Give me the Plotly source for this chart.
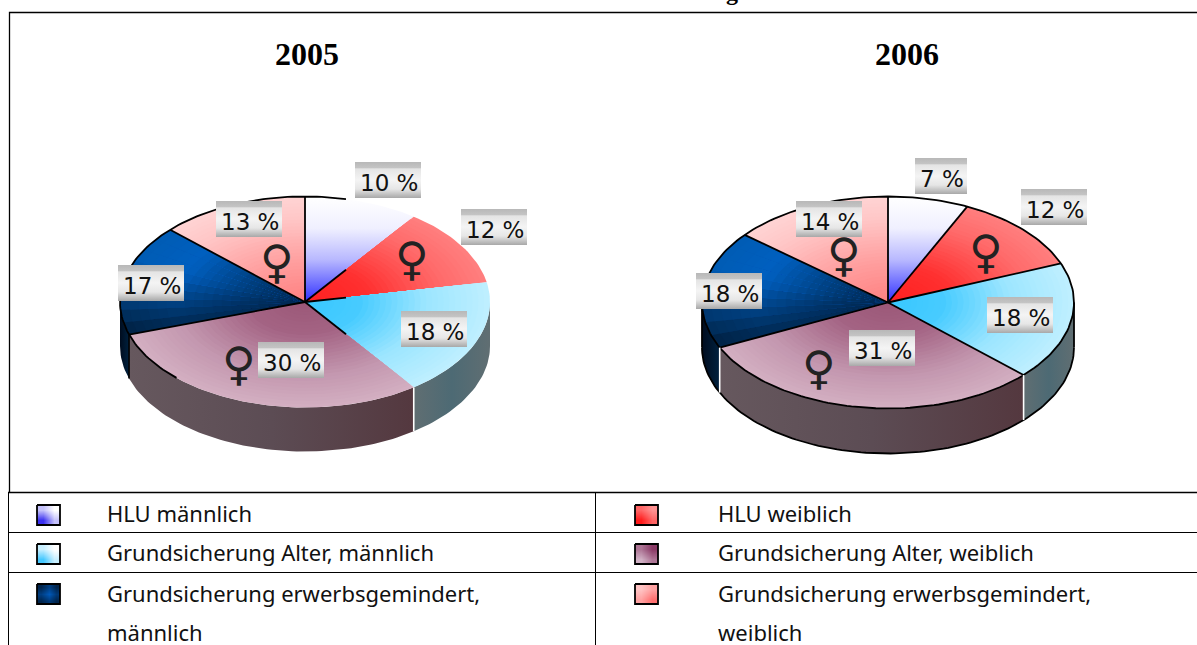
import numpy as np
import plotly.graph_objects as go

# ---------- data ----------
years = ["2005", "2006"]
categories = ["HLU männlich", "HLU weiblich", "Grundsicherung Alter, männlich",
              "Grundsicherung Alter, weiblich", "Grundsicherung erwerbsgemindert, männlich",
              "Grundsicherung erwerbsgemindert, weiblich"]
values_2005 = [10, 12, 18, 30, 17, 13]
values_2006 = [7, 12, 18, 31, 18, 14]

# ---------- layout constants ----------
W, H = 1197, 645
PIES = [
    dict(v=values_2005, cx=305, cy=302, rx=185, ry=105.5, d=44, full=False, title_x=307,
         boxes=[(355, 162, 66), (461, 209, 66), (401, 311, 66), (258, 342, 66), (118, 265, 66), (216, 201, 66)],
         fem=[(412, 259), (239, 364), (277, 262)]),
    dict(v=values_2006, cx=888, cy=302.5, rx=186, ry=106, d=45, full=True, title_x=907,
         boxes=[(915, 158, 52), (1021, 189, 66), (987, 297, 66), (849, 330, 66), (696, 273, 66), (796, 201, 66)],
         fem=[(986, 252), (819, 368), (844, 255)]),
]
# radial colour stops per slice (fraction of radius, colour)
RAD = {
    1: [(0, "#ff2020"), (.35, "#ff3030"), (.75, "#ff6a6a"), (1, "#ff8080")],
    2: [(0, "#38c8ff"), (.3, "#48ccff"), (.65, "#9ce6ff"), (1, "#c0f0ff")],
    3: [(0, "#9c5878"), (.3, "#a46484"), (.7, "#c498b0"), (1, "#d4b0c2")],
    5: [(0, "#ff8080"), (.4, "#ffa0a0"), (.8, "#ffc8c8"), (1, "#ffd4d4")],
}
NAVY_IN = [(0, "#00264c"), (.3, "#003c78"), (.7, "#0060c0"), (1, "#005cb4")]
NAVY_LOW = [(0, "#00264c"), (.3, "#002c58"), (.7, "#002e5c"), (1, "#002448")]
WALL_COL = {
    2: [(0, "#606e72"), (.5, "#4d6a74"), (1, "#606e72")],
    3: [(0, "#54383f"), (.5, "#5c4c54"), (1, "#66585e")],
    4: [(0, "#00213f"), (1, "#000c1e")],
}
NL = 32


def hex2rgb(h):
    return np.array([int(h[i:i + 2], 16) for i in (1, 3, 5)], float)


def lerp(stops, f):
    xs = [s[0] for s in stops]
    arr = np.array([hex2rgb(s[1]) for s in stops])
    return "rgb(%d,%d,%d)" % tuple(np.interp(f, xs, arr[:, i]) for i in range(3))


def mix(a, b, k):
    out = []
    for (f, c1), (_, c2) in zip(a, b):
        rgb = hex2rgb(c1) * (1 - k) + hex2rgb(c2) * k
        out.append((f, "#%02x%02x%02x" % tuple(int(x) for x in rgb)))
    return out


def arc(p, t0, t1, scale=1.0, dy=0.0, n=None):
    n = n or max(2, int(abs(t1 - t0) / 1.5))
    t = np.radians(np.linspace(t0, t1, n))
    return p["cx"] + scale * p["rx"] * np.sin(t), p["cy"] + dy - scale * p["ry"] * np.cos(t)


fig = go.Figure()


def add_poly(x, y, fill=None, grad=None, line=None, lw=0):
    tr = dict(x=list(x), y=list(y), mode="lines", fill="toself", hoverinfo="skip",
              line=dict(color=line or "rgba(0,0,0,0)", width=lw))
    if grad is not None:
        tr["fillgradient"] = grad
    else:
        tr["fillcolor"] = fill
    fig.add_trace(go.Scatter(**tr))


def add_line(x, y, color="#000", lw=1.8):
    fig.add_trace(go.Scatter(x=list(x), y=list(y), mode="lines", hoverinfo="skip",
                             line=dict(color=color, width=lw)))


def cs(stops):
    return [[f, c] for f, c in stops]


def draw_pie(p):
    edges = np.concatenate([[0], np.cumsum(p["v"])]) / sum(p["v"]) * 360
    # side walls
    for i, st in WALL_COL.items():
        a, b = max(edges[i], 90), min(edges[i + 1], 270)
        if b <= a:
            continue
        x0, y0 = arc(p, a, b)
        x1, y1 = arc(p, b, a, dy=p["d"])
        X = np.r_[x0, x1]
        add_poly(np.r_[X, X[0]], np.r_[y0, y1, y0[0]],
                 grad=dict(type="horizontal", start=float(X.max()), stop=float(X.min()),
                           colorscale=cs(st)))
    # slices
    for i in range(6):
        a, b = edges[i], edges[i + 1]
        if i == 0:
            x, y = arc(p, a, b)
            add_poly(np.r_[p["cx"], x, p["cx"]], np.r_[p["cy"], y, p["cy"]],
                     grad=dict(type="vertical", start=p["cy"] - p["ry"], stop=p["cy"],
                               colorscale=[[0, "#ffffff"], [.3, "#f0f0ff"], [.6, "#b8b8ff"], [1, "#3030ff"]]))
        elif i == 4:
            # navy slice: brightest in its upper part, dark toward the lower edge
            m = 9
            for j in range(m):
                aa = a + (b - a) * j / m
                bb = a + (b - a) * (j + 1) / m + .6
                k = float(np.clip((j + .5) / m * 1.7 - .1, 0, 1))
                st = mix(NAVY_LOW, NAVY_IN, k)
                for lv in range(20, 0, -1):
                    f = lv / 20
                    x, y = arc(p, aa, bb, scale=f, n=8)
                    col = lerp(st, f - 1 / 40)
                    add_poly(np.r_[p["cx"], x, p["cx"]], np.r_[p["cy"], y, p["cy"]], fill=col)
        else:
            for lv in range(NL, 0, -1):
                f = lv / NL
                x, y = arc(p, a, b, scale=f)
                col = lerp(RAD[i], f - 1 / (2 * NL))
                add_poly(np.r_[p["cx"], x, p["cx"]], np.r_[p["cy"], y, p["cy"]], fill=col)
    # outlines
    if p["full"]:
        x, y = arc(p, 0, 360, n=240)
        add_line(x, y)
        x, y = arc(p, 90, 270, dy=p["d"])
        add_line(x, y)
        add_line([p["cx"] + p["rx"]] * 2, [p["cy"], p["cy"] + p["d"]])
        add_line([p["cx"] - p["rx"]] * 2, [p["cy"], p["cy"] + p["d"]])
        for e in edges[:-1]:
            x, y = arc(p, e, e, n=1)
            add_line([p["cx"], x[0]], [p["cy"], y[0]])
    else:
        # the older picture only keeps its outline on the left part
        clip = p["cx"] + 41
        x, y = arc(p, 224, 372.8)
        add_line(x, y)
        for e in edges[:-1]:
            x, y = arc(p, e, e, n=1)
            xe, ye = x[0], y[0]
            if xe > clip:
                s = (clip - p["cx"]) / (xe - p["cx"])
                xe, ye = clip, p["cy"] + s * (ye - p["cy"])
            add_line([p["cx"], xe], [p["cy"], ye])
    # wall separators
    for e in edges[1:-1]:
        if 90 < e < 270:
            x, y = arc(p, e, e, n=1)
            c = "#000" if e > 180 and not p["full"] else "#fff"
            add_line([x[0], x[0]], [y[0], y[0] + p["d"]], color=c, lw=1.6)


ann = []


def text(x, y, s, size, family="Noto Sans", color="#111", anchor="center", bold=False, yshift=0):
    ann.append(dict(x=x, y=y, text=f"<b>{s}</b>" if bold else s, showarrow=False, xanchor=anchor, yanchor="middle",
                    font=dict(size=size, family=family, color=color), xref="x", yref="y", yshift=yshift))


for p in PIES:
    draw_pie(p)
    for (bx, by, bw), v in zip(p["boxes"], p["v"]):
        bh = 36
        add_poly([bx, bx + bw, bx + bw, bx, bx], [by, by, by + bh, by + bh, by],
                 grad=dict(type="vertical", start=by, stop=by + bh,
                           colorscale=[[0, "#b8b8b8"], [.16, "#c4c4c4"], [.19, "#e4e4e4"], [.5, "#f4f4f4"],
                                       [.75, "#e6e6e6"], [1, "#a8a8a8"]]))
        text(bx + bw / 2 + 1, by + 21, f"{v} %", 23, family="DejaVu Sans")
    for fx, fy in p["fem"]:
        text(fx, fy, "♀", 46, family="DejaVu Sans", color="#222")

for p, y_ in zip(PIES, years):
    text(p["title_x"], 54, y_, 32, family="Liberation Serif", color="#000", bold=True)

# table / frame
for xs, ys, lw in [
    ([1197, 9.5, 9.5], [12.5, 12.5, 492], 1.3),
    ([8, 1197], [492.5, 492.5], 1.3),
    ([8, 1197], [532.5, 532.5], 1.0),
    ([8, 1197], [572.5, 572.5], 1.0),
    ([8.5, 8.5], [492, 645], 1.0),
    ([595.5, 595.5], [492, 645], 1.0),
]:
    add_line(xs, ys, lw=lw)

legend_rows = [(513, 105, 0), (552, 105, 2), (593, 105, 4), (513, 716, 1), (552, 716, 3), (593, 716, 5)]
for y_, x_, idx in legend_rows:
    lbl = categories[idx]
    if "erwerbsgemindert" in lbl:
        a_, b_ = lbl.split(", ")
        text(x_, y_, a_ + ",", 22, anchor="left")
        text(x_, 632, b_, 22, anchor="left")
    else:
        text(x_, y_, lbl, 22, anchor="left")

# legend swatches: small corner-interpolated gradients (bottom row first)
SW = {
    0: ([[1, .3], [.3, 0]], "#ffffff", "#3a30f0"),
    1: ([[1, .5], [.5, .2]], "#ffb0b0", "#ff1a1a"),
    2: ([[1, .3], [.3, 0]], "#ffffff", "#45c8ff"),
    3: ([[0, .5], [.5, 1]], "#d0b0c4", "#8a3a66"),
    4: ([[0, .4, 0], [.5, 1, .4], [0, .5, 0]], "#00244c", "#0058b8"),
    5: ([[.4, 1], [0, .4]], "#ffc4c4", "#ff7070"),
}
swatch_box = {0: (37, 505), 2: (37, 544), 4: (37, 584), 1: (635, 505), 3: (635, 544), 5: (635, 584)}
for idx, (bx, by) in swatch_box.items():
    w, h = 23, 20
    z, c0, c1 = SW[idx]
    n = len(z)
    xs = [bx + w * (i + .5) / n for i in range(n)]
    ys = [by + h - h * (i + .5) / n for i in range(n)]
    fig.add_trace(go.Heatmap(x=xs, y=ys, z=z, zmin=0, zmax=1, zsmooth="best", showscale=False, hoverinfo="skip",
                             colorscale=[[0, c0], [1, c1]]))
    add_line([bx, bx + w, bx + w, bx, bx], [by, by, by + h, by + h, by], lw=1.8)

# cropped heading letter at the very top of the page
text(732, 0, "g", 24, family="Liberation Serif", color="#000", bold=True, yshift=8)

fig.update_layout(
    width=W, height=H, margin=dict(l=0, r=0, t=0, b=0), paper_bgcolor="white", plot_bgcolor="white",
    showlegend=False, annotations=ann, hovermode=False,
    xaxis=dict(range=[0, W], visible=False, fixedrange=True),
    yaxis=dict(range=[H, 0], visible=False, fixedrange=True),
)
fig.write_html("out.html", config=dict(displayModeBar=False),
               post_script="document.body.style.margin='0';document.body.style.overflow='hidden';")
